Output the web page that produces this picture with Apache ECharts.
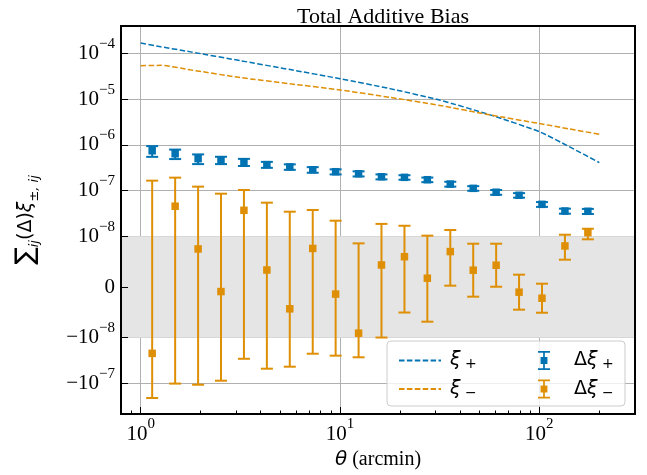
<!DOCTYPE html>
<html><head><meta charset="utf-8">
<script src="https://cdn.jsdelivr.net/npm/echarts@6/dist/echarts.min.js"></script>
<style>html,body{margin:0;padding:0;background:#fff}#c{width:647px;height:475px}</style>
</head><body><div id="c"></div>
<script>
// ---- data ----
const thetaLine = [1.0, 1.26, 1.78, 3.16, 5.62, 10.0, 17.8, 31.6, 56.2, 100, 141, 200];
const xiPlus  = [1.71e-4, 1.41e-4, 1.09e-4, 7.0e-5, 4.46e-5, 2.82e-5, 1.71e-5, 9.6e-6, 4.6e-6, 1.95e-6, 9.2e-7, 4.1e-7];
const xiMinus = [5.43e-5, 5.53e-5, 4.40e-5, 2.98e-5, 2.18e-5, 1.60e-5, 1.10e-5, 7.33e-6, 4.57e-6, 2.94e-6, 2.24e-6, 1.71e-6];

const thetaBins = [1.141, 1.488, 1.940, 2.527, 3.294, 4.294, 5.595, 7.295, 9.504, 12.39, 16.14, 21.05, 27.42, 35.74, 46.58, 60.71, 79.12, 103.1, 134.4, 175.2];
const dXiPlus    = [7.45e-7, 6.4e-7, 5.0e-7, 4.65e-7, 4.2e-7, 3.7e-7, 3.3e-7, 2.86e-7, 2.59e-7, 2.34e-7, 2.01e-7, 1.95e-7, 1.73e-7, 1.39e-7, 1.12e-7, 9.2e-8, 7.9e-8, 5.0e-8, 3.57e-8, 3.52e-8];
const dXiPlusErr = [1.97e-7, 1.5e-7, 1.2e-7, 8.5e-8, 7.5e-8, 5.5e-8, 4.5e-8, 4.0e-8, 3.3e-8, 3.0e-8, 2.5e-8, 2.2e-8, 2.0e-8, 1.7e-8, 1.3e-8, 1.1e-8, 9e-9, 6e-9, 4.5e-9, 4.5e-9];
const dXiMinus    = [-2.2e-8, 4.55e-8, 7.5e-9, -9e-10, 3.7e-8, 3.35e-9, -4.3e-9, 7.6e-9, -1.4e-9, -9.1e-9, 4.34e-9, 5.97e-9, 1.73e-9, 6.98e-9, 3.31e-9, 4.29e-9, -1.02e-9, -2.21e-9, 8.09e-9, 1.20e-8];
const dXiMinusErr = [1.87e-7, 1.465e-7, 1.145e-7, 8.64e-8, 6.59e-8, 5.1e-8, 3.88e-8, 3.0e-8, 2.33e-8, 1.77e-8, 1.43e-8, 1.10e-8, 8.57e-9, 6.72e-9, 5.22e-9, 4.24e-9, 3.45e-9, 2.86e-9, 2.71e-9, 2.6e-9];

const yTickValues = [1e-4, 1e-5, 1e-6, 1e-7, 1e-8, 0, -1e-8, -1e-7];
const yTickLabels = ['{b|10}{s|\u22124}', '{b|10}{s|\u22125}', '{b|10}{s|\u22126}', '{b|10}{s|\u22127}', '{b|10}{s|\u22128}', '{b|0}', '{b|\u221210}{s|\u22128}', '{b|\u221210}{s|\u22127}'];
const xTickValues = [1, 10, 100];
const xTickLabels = ['{b|10}{s|0}', '{b|10}{s|1}', '{b|10}{s|2}'];
const xMinorTicks = [0.9, 2, 3, 4, 5, 6, 7, 8, 9, 20, 30, 40, 50, 60, 70, 80, 90, 200, 300];
const bandRange = [-1e-8, 1e-8];
const xRange = [0.796, 302];
const yRange = [-4.68e-7, 4.02e-4];

// ---- symlog transform (linthresh 1e-8, linscale 1) ----
const LT = 1e-8, K = 1 / (1 - 1 / 10);
function symlog(v) { const a = Math.abs(v); if (a <= LT) return v / LT * K; return Math.sign(v) * (Math.log10(a / LT) + K); }
const lg = Math.log10;

const BLUE = '#0173b2', ORANGE = '#de8f05';
const yPos = yTickValues.map(symlog);
const xPos = xTickValues.map(lg);
function pick(v, pos, labels) { for (let i = 0; i < pos.length; i++) if (Math.abs(pos[i] - v) < 1e-6) return labels[i]; return ''; }

const tickRich = {
  b: { fontFamily: 'Liberation Serif', fontSize: 21, lineHeight: 34, color: '#000' },
  s: { fontFamily: 'Liberation Serif', fontSize: 15, lineHeight: 12, verticalAlign: 'top', color: '#000' }
};

function errSeries(name, color, vals, errs) {
  return {
    name, type: 'custom', z: 3, itemStyle: { color },
    data: thetaBins.map((t, i) => [lg(t), symlog(vals[i] + errs[i]), symlog(vals[i] - errs[i])]),
    renderItem(params, api) {
      const x = api.value(0);
      const p1 = api.coord([x, api.value(1)]), p2 = api.coord([x, api.value(2)]);
      const hw = 6, st = { stroke: color, lineWidth: 2 };
      return { type: 'group', children: [
        { type: 'line', shape: { x1: p1[0], y1: p1[1], x2: p2[0], y2: p2[1] }, style: st },
        { type: 'line', shape: { x1: p1[0] - hw, y1: p1[1], x2: p1[0] + hw, y2: p1[1] }, style: st },
        { type: 'line', shape: { x1: p2[0] - hw, y1: p2[1], x2: p2[0] + hw, y2: p2[1] }, style: st }
      ]};
    }
  };
}
function ptSeries(name, color, vals) {
  return { name, type: 'scatter', z: 4, symbol: 'rect', symbolSize: 7.5, itemStyle: { color, opacity: 1 },
    data: thetaBins.map((t, i) => [lg(t), symlog(vals[i])]) };
}

const legRich = {
  g1: { width: 4 }, g2: { width: 19 },
  m: { fontFamily: 'DejaVu Sans', fontStyle: 'italic', fontSize: 19, lineHeight: 22, color: '#000' },
  u: { fontFamily: 'DejaVu Sans', fontSize: 19, lineHeight: 22, color: '#000' },
  sub: { fontFamily: 'DejaVu Sans', fontSize: 14, lineHeight: 14, verticalAlign: 'bottom', color: '#000' }
};
const legFmt = {
  'xi+': '{g1| }{m|\u03be}{sub| +}', 'xi-': '{g1| }{m|\u03be}{sub| \u2212}',
  'dxi+': '{g2| }{u|\u0394}{m|\u03be}{sub| +}', 'dxi-': '{g2| }{u|\u0394}{m|\u03be}{sub| \u2212}'
};
const errIcon = 'path://M0,0H14V2H8V7H11V15H8V20H14V22H0V20H6V15H3V7H6V2H0Z';

const option = {
  animation: false,
  title: { text: 'Total Additive Bias', left: 378, textAlign: 'center', top: 1,
    textStyle: { fontFamily: 'Liberation Serif', fontSize: 22, fontWeight: 'normal', color: '#000' } },
  grid: { left: 121, right: 12, top: 26, bottom: 61, show: true, borderColor: '#000', borderWidth: 2, z: 5, backgroundColor: 'transparent' },
  xAxis: [{
    type: 'value', min: lg(xRange[0]), max: lg(xRange[1]), z: 1,
    axisLine: { show: false, onZero: false },
    axisTick: { show: true, inside: true, length: 7, customValues: xPos, lineStyle: { color: '#000', width: 1 } },
    axisLabel: { customValues: xPos, margin: 3, formatter: v => pick(v, xPos, xTickLabels), rich: tickRich },
    splitLine: { show: true, lineStyle: { color: '#b0b0b0', width: 1 } },
    name: '{it|\u03b8} (arcmin)', nameLocation: 'middle', nameGap: 33,
    nameTextStyle: { fontFamily: 'Liberation Serif', fontSize: 20, color: '#000',
      rich: { it: { fontFamily: 'DejaVu Sans', fontStyle: 'italic', fontSize: 20, color: '#000' } } }
  }, {
    type: 'value', min: lg(xRange[0]), max: lg(xRange[1]), position: 'bottom', z: 1,
    axisLine: { show: false, onZero: false },
    axisTick: { show: true, inside: true, length: 3.5, customValues: xMinorTicks.map(lg), lineStyle: { color: '#000', width: 1 } },
    axisLabel: { show: false }, splitLine: { show: false }
  }],
  yAxis: {
    type: 'value', min: symlog(yRange[0]), max: symlog(yRange[1]), z: 1,
    axisLine: { show: false, onZero: false },
    axisTick: { show: true, inside: true, length: 7, customValues: yPos, lineStyle: { color: '#000', width: 1 } },
    axisLabel: { customValues: yPos, margin: 6, formatter: v => pick(v, yPos, yTickLabels), rich: tickRich },
    splitLine: { show: true, lineStyle: { color: '#b0b0b0', width: 1 } },
    name: '{big|\u2211}{sb|ij}{n|(\u0394)}{it|\u03be}{sb|\u00b1, ij}', nameLocation: 'middle', nameRotate: 90, nameGap: 80,
    nameTextStyle: { color: '#000', rich: {
      big: { fontFamily: 'DejaVu Sans', fontSize: 26, lineHeight: 30, color: '#000' },
      n: { fontFamily: 'DejaVu Sans', fontSize: 19, lineHeight: 30, color: '#000' },
      it: { fontFamily: 'DejaVu Sans', fontStyle: 'italic', fontSize: 19, lineHeight: 30, color: '#000' },
      sb: { fontFamily: 'DejaVu Sans', fontStyle: 'italic', fontSize: 13, lineHeight: 12, verticalAlign: 'bottom', color: '#000' }
    } }
  },
  legend: [{
    left: 393, top: 346, orient: 'vertical', itemWidth: 42, itemHeight: 22, itemGap: 8, z: 10, selectedMode: false,
    itemStyle: { opacity: 0 },
    data: ['xi+', 'xi-'], formatter: n => legFmt[n], textStyle: { rich: legRich }
  }, {
    left: 533, top: 346, orient: 'vertical', itemWidth: 12, itemHeight: 22, itemGap: 8, z: 10, selectedMode: false,
    data: [{ name: 'dxi+', icon: errIcon }, { name: 'dxi-', icon: errIcon }], formatter: n => legFmt[n], textStyle: { rich: legRich }
  }],
  graphic: [{ type: 'rect', z: 8, shape: { x: 387, y: 341, width: 238, height: 65, r: 4 },
    style: { fill: 'rgba(255,255,255,0.8)', stroke: '#cccccc', lineWidth: 1 } }],
  series: [
    { name: 'band', type: 'line', z: 0, silent: true, symbol: 'none', data: [[lg(xRange[0]), 0]], lineStyle: { opacity: 0 },
      markArea: { silent: true, itemStyle: { color: '#e5e5e5' }, data: [[{ yAxis: symlog(bandRange[0]) }, { yAxis: symlog(bandRange[1]) }]] } },
    { name: 'xi+', type: 'line', z: 2, symbol: 'none', smooth: 0.2, lineStyle: { color: BLUE, width: 1.5, type: [5.5, 2.4] }, itemStyle: { color: BLUE },
      data: thetaLine.map((t, i) => [lg(t), symlog(xiPlus[i])]) },
    { name: 'xi-', type: 'line', z: 2, symbol: 'none', smooth: 0.2, lineStyle: { color: ORANGE, width: 1.5, type: [5.5, 2.4] }, itemStyle: { color: ORANGE },
      data: thetaLine.map((t, i) => [lg(t), symlog(xiMinus[i])]) },
    ptSeries('dxi+', BLUE, dXiPlus),
    errSeries('dxi+', BLUE, dXiPlus, dXiPlusErr),
    ptSeries('dxi-', ORANGE, dXiMinus),
    errSeries('dxi-', ORANGE, dXiMinus, dXiMinusErr)
  ]
};
const chart = echarts.init(document.getElementById('c'), null, { renderer: 'canvas' });
chart.setOption(option);
</script></body></html>
